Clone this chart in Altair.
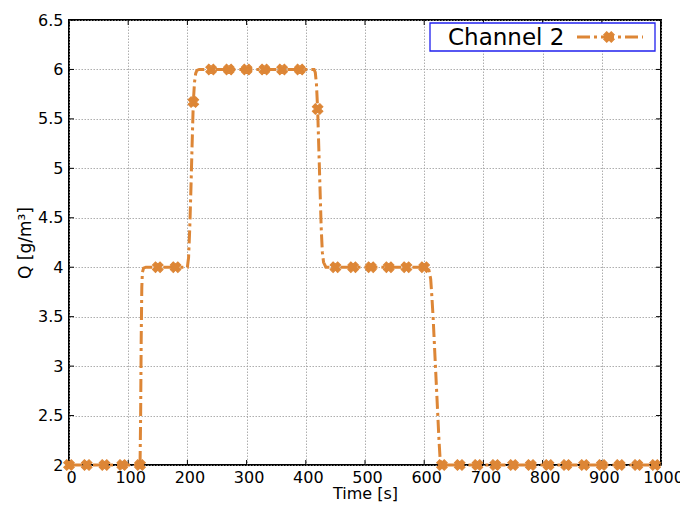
import altair as alt
import pandas as pd

# ---- data ----
t_line = [0, 120, 121, 122, 123, 124, 126, 130,
          200, 202, 204, 206, 208, 210, 212, 214, 216, 220,
          414, 416, 418, 420, 422, 424, 426, 428, 430, 434,
          604, 608, 611, 613, 615, 617, 619, 621, 623, 625, 627, 630, 1000]
q_line = [2, 2, 2.5, 3.3, 3.8, 3.95, 3.99, 4,
          4, 4.1, 4.4, 4.8, 5.25, 5.67, 5.87, 5.96, 5.99, 6,
          6, 5.97, 5.85, 5.6, 5.2, 4.8, 4.4, 4.15, 4.05, 4,
          4, 3.97, 3.88, 3.7, 3.5, 3.25, 3.0, 2.75, 2.5, 2.25, 2.05, 2.0, 2]

t_mark = [0, 30, 60, 90, 120, 150, 180, 210, 240, 270, 300, 330, 360, 390,
          420, 450, 480, 510, 540, 570, 600, 630, 660, 690, 720, 750, 780,
          810, 840, 870, 900, 930, 960, 990]
q_mark = [2, 2, 2, 2, 2, 4, 4, 5.67, 6, 6, 6, 6, 6, 6,
          5.6, 4, 4, 4, 4, 4, 4, 2, 2, 2, 2, 2, 2,
          2, 2, 2, 2, 2, 2, 2]

x_ticks = [0, 100, 200, 300, 400, 500, 600, 700, 800, 900, 1000]
y_ticks = [2, 2.5, 3, 3.5, 4, 4.5, 5, 5.5, 6, 6.5]

series_name = "Channel 2"

# ---- style ----
W, H = 592, 445
COLOR = "#DD8636"
DASH = [13, 4, 3, 4]
FONT = "DejaVu Sans"

line_df = pd.DataFrame({"t": t_line, "q": q_line})
mark_df = pd.DataFrame({"t": t_mark, "q": q_mark})
xt_df = pd.DataFrame({"t": x_ticks})
yt_df = pd.DataFrame({"q": y_ticks})

xs = alt.Scale(domain=[0, 1000], nice=False, zero=False)
ys = alt.Scale(domain=[2, 6.5], nice=False, zero=False)

x_axis = alt.Axis(values=x_ticks, format="d", title="Time [s]", grid=True, gridColor="#999999",
                  gridDash=[1.5, 1.5], gridWidth=0.8, tickSize=0, domain=False,
                  labelFontSize=16, labelFont=FONT, labelColor="black", labelPadding=4,
                  labelOffset=2, labelFlush=False, labelOverlap=False,
                  titleFontSize=16, titleFont=FONT, titleFontWeight="normal",
                  titleColor="black", titlePadding=0)
y_axis = alt.Axis(values=y_ticks, format="~g", title="Q [g/m³]", grid=True,
                  gridColor="#999999", gridDash=[1.5, 1.5], gridWidth=0.8, tickSize=0,
                  domain=False, labelFontSize=16, labelFont=FONT, labelColor="black",
                  labelPadding=6, labelFlush=False, labelOverlap=False,
                  titleFontSize=17, titleFont=FONT, titleFontWeight="normal",
                  titleColor="black", titlePadding=3)

X = alt.X("t:Q", scale=xs, axis=x_axis)
Y = alt.Y("q:Q", scale=ys, axis=y_axis)

line = alt.Chart(line_df).mark_line(color=COLOR, strokeWidth=3, strokeDash=DASH,
                                    strokeCap="butt").encode(x=X, y=Y)
points = alt.Chart(mark_df).mark_point(shape="cross", angle=45, filled=True, fill=COLOR,
                                       stroke=COLOR, strokeWidth=1, opacity=1,
                                       size=115).encode(x=X, y=Y)

# inward ticks on all four sides
tick_style = dict(color="black", strokeWidth=1)
t_bottom = alt.Chart(xt_df).mark_rule(**tick_style).encode(x=X, y=alt.value(H), y2=alt.value(H - 5))
t_top = alt.Chart(xt_df).mark_rule(**tick_style).encode(x=X, y=alt.value(0), y2=alt.value(5))
t_left = alt.Chart(yt_df).mark_rule(**tick_style).encode(y=Y, x=alt.value(0), x2=alt.value(5))
t_right = alt.Chart(yt_df).mark_rule(**tick_style).encode(y=Y, x=alt.value(W), x2=alt.value(W - 5))

# legend box
one = pd.DataFrame({"a": [0]})
leg_box = alt.Chart(one).mark_rect(fill="white", stroke="#2020ee", strokeWidth=1.3).encode(
    x=alt.value(361), x2=alt.value(586), y=alt.value(3), y2=alt.value(31))
leg_line = alt.Chart(one).mark_rule(color=COLOR, strokeWidth=3, strokeDash=DASH,
                                    strokeCap="butt").encode(
    x=alt.value(508), x2=alt.value(574), y=alt.value(17))
leg_pt = alt.Chart(one).mark_point(shape="cross", angle=45, filled=True, fill=COLOR,
                                   stroke=COLOR, strokeWidth=1, opacity=1, size=115).encode(
    x=alt.value(540), y=alt.value(17))
leg_text = alt.Chart(one).mark_text(text=series_name, font=FONT, fontSize=23, color="black",
                                    align="left", baseline="middle").encode(
    x=alt.value(379), y=alt.value(18))

chart = alt.layer(t_bottom, t_top, t_left, t_right, line, points,
                  leg_box, leg_line, leg_pt, leg_text).properties(
    width=W, height=H,
    autosize=alt.AutoSizeParams(type="none"),
    padding={"left": 61, "top": 12, "right": 19, "bottom": 42},
    background="white",
).configure_view(stroke="black", strokeWidth=2)

chart.save("out.html", embed_options={"renderer": "svg", "actions": False})
